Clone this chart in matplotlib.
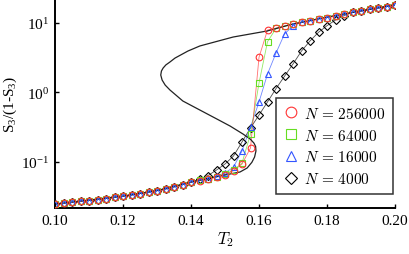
import matplotlib
matplotlib.use('Agg')
import matplotlib.pyplot as plt

# 温度 T2，每 0.0025 一个点
T2 = [0.100, 0.1025, 0.105, 0.1075, 0.110, 0.1125, 0.115, 0.1175, 0.120, 0.1225,
      0.125, 0.1275, 0.130, 0.1325, 0.135, 0.1375, 0.140, 0.1425, 0.145, 0.1475,
      0.150, 0.1525, 0.155, 0.1575, 0.160, 0.1625, 0.165, 0.1675, 0.170, 0.1725,
      0.175, 0.1775, 0.180, 0.1825, 0.185, 0.1875, 0.190, 0.1925, 0.195, 0.1975, 0.200]

# 低温段四条曲线重合
low = [0.0250, 0.0256, 0.0264, 0.0272, 0.0280, 0.0289, 0.0299, 0.0310, 0.0322, 0.0336,
       0.0352, 0.0370, 0.0389, 0.0410, 0.0438, 0.0475, 0.0516]
# 高温段上支 (0.1675 起)
high = [8.93, 9.55, 10.1, 10.6, 11.3, 11.8, 12.5, 13.2, 14.0, 14.7, 15.5, 16.2, 17.0, 17.9]

N256000 = low + [0.0543, 0.0570, 0.0609, 0.0662, 0.0750, 0.0936, 0.159, 3.18, 7.83, 8.36] + high
N64000 = low + [0.0545, 0.0572, 0.0612, 0.0668, 0.0767, 0.0968, 0.252, 1.36, 5.32, 8.23] + high
N16000 = low + [0.0552, 0.0578, 0.0631, 0.0695, 0.0848, 0.144, 0.318, 0.726, 1.83, 3.66,
                6.86, 9.0] + high[2:]
N4000 = low + [0.0570, 0.0640, 0.0768, 0.0936, 0.122, 0.194, 0.308, 0.472, 0.727, 1.13,
               1.70, 2.55, 3.91, 5.45, 7.26, 9.03, 10.9, 12.6, 14.0] + high[9:]

# 理论曲线 (S 形)
theory_T = [0.100, 0.110, 0.120, 0.130, 0.140, 0.1456, 0.1506, 0.1544, 0.1565, 0.1579,
            0.1587, 0.1591, 0.1590, 0.1585, 0.1574, 0.1553, 0.1515, 0.1476, 0.1426, 0.1376,
            0.1338, 0.1324, 0.1315, 0.1311, 0.1313, 0.1318, 0.1326, 0.1338, 0.1353, 0.1391,
            0.1426, 0.1524, 0.1624, 0.170, 0.180, 0.190, 0.200]
theory_v = [0.0250, 0.0285, 0.0325, 0.0389, 0.0516, 0.0590, 0.0660, 0.0719, 0.0820, 0.0990,
            0.118, 0.144, 0.167, 0.187, 0.214, 0.252, 0.328, 0.414, 0.557, 0.750,
            1.08, 1.27, 1.50, 1.77, 2.02, 2.23, 2.47, 2.72, 3.10, 3.91,
            4.62, 6.21, 7.58, 9.55, 12.0, 14.7, 18.0]

plt.rcParams['font.family'] = ['Liberation Serif', 'DejaVu Serif']
plt.rcParams['mathtext.fontset'] = 'cm'

fig = plt.figure(figsize=(4.09, 2.55), dpi=100)
ax = fig.add_axes([0.1345, 0.1804, 0.8313, 0.8196])

series = [
    (N4000, 'k', 'D', '$N\\,=\\,4000$', 4.0),
    (N16000, '#3355ff', '^', '$N\\,=\\,16000$', 4.8),
    (N64000, '#66dd22', 's', '$N\\,=\\,64000$', 4.4),
    (N256000, '#ff3333', 'o', '$N\\,=\\,256000$', 4.8),
]
handles = []
for vals, c, m, lab, ms in series:
    ax.plot(T2, vals, '-', color=c, lw=0.6, alpha=0.7, zorder=2)
    h, = ax.plot(T2, vals, ls='none', marker=m, ms=ms, mfc='none', mec=c, mew=0.8,
                 label=lab, zorder=3)
    handles.append(h)

ax.plot(theory_T, theory_v, '-', color='#222222', lw=0.9, zorder=2.5)

ax.set_yscale('log')
ax.set_xlim(0.10, 0.20)
ax.set_ylim(0.0219, 21.8)
ax.set_xticks([0.10, 0.12, 0.14, 0.16, 0.18, 0.20])
ax.set_xticklabels(['0.10', '0.12', '0.14', '0.16', '0.18', '0.20'])
ax.set_yticks([0.1, 1, 10])
ax.set_yticklabels(['$\\mathregular{10^{-1}}$', '$\\mathregular{10^{0}}$',
                    '$\\mathregular{10^{1}}$'])
ax.minorticks_off()
ax.tick_params(direction='in', length=3, width=1, labelsize=11, pad=4)
for s in ['top', 'right']:
    ax.spines[s].set_visible(False)
for s in ['left', 'bottom']:
    ax.spines[s].set_linewidth(1.4)

ax.set_xlabel('$T_2$', fontsize=12, labelpad=2)
ax.set_ylabel('$\\mathregular{S_3/(1}$-$\\mathregular{S_3)}$', fontsize=11, labelpad=2)

leg = ax.legend(handles[::-1], [h.get_label() for h in handles[::-1]],
                loc='lower right', bbox_to_anchor=(0.994, 0.067), fontsize=11,
                markerscale=1.6, frameon=True, fancybox=False, edgecolor='k',
                handlelength=1.0, handletextpad=0.35, labelspacing=0.45,
                borderpad=0.5, borderaxespad=0)
leg.get_frame().set_linewidth(1.1)

fig.savefig('out.png', dpi=100)
